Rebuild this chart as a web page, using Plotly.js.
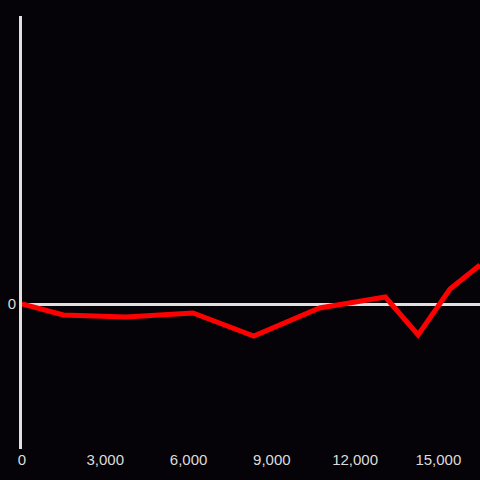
<!DOCTYPE html>
<html>
<head>
<meta charset="utf-8">
<script src="https://cdn.plot.ly/plotly-3.0.1.min.js"></script>
<style>
html,body{margin:0;padding:0;background:#050307;}
#chart{width:480px;height:480px;}
</style>
</head>
<body>
<div id="chart"></div>
<script>
const xValues = [0, 1490, 3750, 6160, 8350, 10720, 13090, 14270, 15420, 16500];
const yValues = [0, -110, -130, -90, -320, -40, 70, -310, 150, 390];
const xTickVals = [0, 3000, 6000, 9000, 12000, 15000];
const xTickText = ['0', '3,000', '6,000', '9,000', '12,000', '15,000'];
const yTickVals = [0];
const yTickText = ['0'];

const trace = {
  x: xValues,
  y: yValues,
  type: 'scatter',
  mode: 'lines',
  line: {color: '#ff0000', width: 5},
  hoverinfo: 'skip'
};

const layout = {
  width: 480,
  height: 480,
  paper_bgcolor: '#050307',
  plot_bgcolor: '#050307',
  margin: {l: 22, r: 0, t: 16, b: 31},
  showlegend: false,
  font: {family: 'Liberation Sans, Arial, sans-serif', size: 15, color: '#dcdcdc'},
  xaxis: {
    range: [0, 16500],
    tickvals: xTickVals,
    ticktext: xTickText,
    showgrid: false,
    zeroline: false,
    showline: false,
    ticks: '',
    tickfont: {size: 15, color: '#dcdcdc'}
  },
  yaxis: {
    range: [-1450, 2880],
    tickvals: yTickVals,
    ticktext: yTickText,
    showgrid: false,
    zeroline: true,
    zerolinecolor: '#e0e0e0',
    zerolinewidth: 3,
    showline: true,
    linecolor: '#e0e0e0',
    linewidth: 3,
    ticks: '',
    tickfont: {size: 15, color: '#dcdcdc'}
  }
};

Plotly.newPlot('chart', [trace], layout, {displayModeBar: false, staticPlot: true});
</script>
</body>
</html>
